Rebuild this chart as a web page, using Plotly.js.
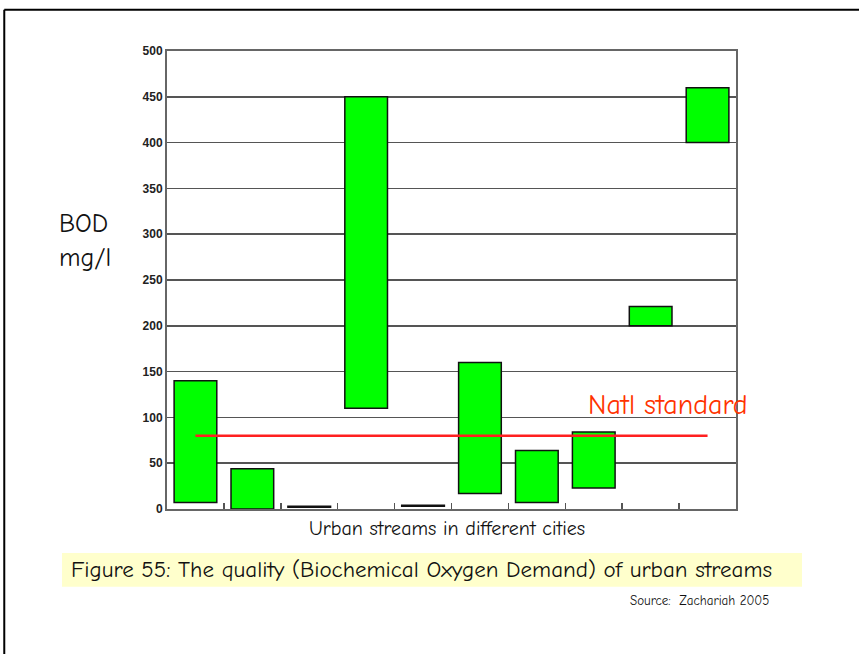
<!DOCTYPE html>
<html>
<head>
<meta charset="utf-8">
<script src="https://cdn.plot.ly/plotly-3.0.1.min.js"></script>
<style>
html,body{margin:0;padding:0;background:#fff;}
#chart{width:859px;height:654px;}
</style>
</head>
<body>
<div id="chart"></div>
<script>
// Data
const cities = ['1','2','3','4','5','6','7','8','9','10'];
const bodLow  = [7, 0, 2, 110, 3, 17, 7, 23, 200, 400];
const bodHigh = [140, 44, 3, 450, 4, 160, 64, 84, 221, 460];
const natlStandard = 80;
const yTicks = [0, 50, 100, 150, 200, 250, 300, 350, 400, 450, 500];

const xPos = cities.map((c, i) => i + 1);
const boundaries = cities.slice(1).map((c, i) => i + 1.5);

const hand = '"Comic Sans MS", "Comic Neue", "DejaVu Sans", sans-serif';

const traces = [
  {
    type: 'bar',
    x: xPos,
    base: bodLow,
    y: bodHigh.map((h, i) => h - bodLow[i]),
    width: 0.75,
    marker: {color: '#00ff00', line: {color: '#111', width: 1.5}},
    hoverinfo: 'skip'
  },
  {
    type: 'scatter',
    mode: 'lines',
    x: [xPos[0], xPos[xPos.length - 1]],
    y: [natlStandard, natlStandard],
    line: {color: '#ff2020', width: 2.5},
    hoverinfo: 'skip'
  }
];

const layout = {
  width: 859, height: 654,
  margin: {l: 167, r: 123, t: 51, b: 145},
  paper_bgcolor: '#fff', plot_bgcolor: '#fff',
  showlegend: false,
  xaxis: {
    range: [0.5, 10.5],
    tickvals: boundaries,
    ticktext: boundaries.map(() => ''),
    ticks: 'inside', ticklen: 6, tickwidth: 1.5, tickcolor: '#555',
    showgrid: false, zeroline: false,
    showline: true, linecolor: '#666', linewidth: 2, mirror: true,
    fixedrange: true
  },
  yaxis: {
    range: [0, 500],
    tickvals: yTicks,
    ticktext: yTicks.map(v => '<b>' + v + '</b>'),
    ticks: '',
    tickfont: {family: '"Liberation Sans Narrow", "Arial Narrow", "Liberation Sans", Arial, sans-serif', size: 12, color: '#222'},
    showgrid: true, gridcolor: '#555', gridwidth: 1.5,
    zeroline: false,
    showline: true, linecolor: '#666', linewidth: 2, mirror: true,
    fixedrange: true
  },
  annotations: [
    {xref: 'paper', yref: 'paper', x: -0.095, y: 0.585, xanchor: 'right', yanchor: 'middle',
     text: 'BOD<br>mg/l', showarrow: false, align: 'left',
     font: {family: hand, size: 26, color: '#111'}},
    {xref: 'x', yref: 'y', x: 9.3, y: 113, xanchor: 'center', yanchor: 'middle',
     text: 'Natl standard', showarrow: false,
     font: {family: hand, size: 28, color: '#ff3300'}},
    {xref: 'paper', yref: 'paper', x: 0.492, y: -0.042, xanchor: 'center', yanchor: 'middle',
     text: 'Urban streams in different cities', showarrow: false,
     font: {family: hand, size: 20, color: '#111'}},
    {xref: 'paper', yref: 'paper', x: -0.172, y: -0.133, xanchor: 'left', yanchor: 'middle',
     text: 'Figure 55: The quality (Biochemical Oxygen Demand) of urban streams', showarrow: false,
     font: {family: hand, size: 23, color: '#111'}},
    {xref: 'paper', yref: 'paper', x: 1.062, y: -0.199, xanchor: 'right', yanchor: 'middle',
     text: 'Source:  Zachariah 2005', showarrow: false,
     font: {family: hand, size: 13, color: '#111'}}
  ],
  shapes: [
    {type: 'rect', xref: 'paper', yref: 'paper', x0: -0.1845, x1: 1.116, y0: -0.170, y1: -0.096,
     fillcolor: '#ffffcc', line: {width: 0}, layer: 'below'},
    {type: 'line', xref: 'paper', yref: 'paper', x0: -0.286, x1: 1.23, y0: 1.09, y1: 1.09,
     line: {color: '#000', width: 2}},
    {type: 'line', xref: 'paper', yref: 'paper', x0: -0.286, x1: -0.286, y0: 1.09, y1: -0.32,
     line: {color: '#000', width: 2}}
  ]
};

Plotly.newPlot('chart', traces, layout, {displayModeBar: false, staticPlot: true});
</script>
</body>
</html>
